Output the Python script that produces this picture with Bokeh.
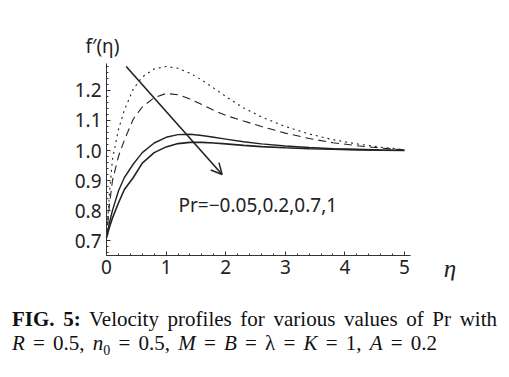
from bokeh.plotting import figure
from bokeh.models import FixedTicker, Label, Arrow, OpenHead, Div, PrintfTickFormatter
from bokeh.layouts import column
from bokeh.embed import file_html
from bokeh.resources import INLINE

# ---- data ----
eta = [0, 0.05, 0.1, 0.2, 0.3, 0.45, 0.6, 0.8, 1.0, 1.2, 1.4, 1.6, 1.8, 2.0,
       2.3, 2.6, 3.0, 3.4, 3.8, 4.2, 4.6, 5.0]
pr_m005 = [0.71, 0.86, 0.97, 1.07, 1.135, 1.205, 1.245, 1.272, 1.28, 1.274, 1.258,
           1.235, 1.208, 1.18, 1.142, 1.112, 1.08, 1.055, 1.036, 1.022, 1.011, 1.003]
pr_02 = [0.71, 0.82, 0.90, 0.98, 1.035, 1.105, 1.145, 1.176, 1.19, 1.186, 1.172,
         1.153, 1.134, 1.117, 1.098, 1.08, 1.058, 1.04, 1.026, 1.016, 1.008, 1.002]
pr_07 = [0.71, 0.76, 0.80, 0.865, 0.91, 0.955, 0.993, 1.025, 1.044, 1.053, 1.054,
         1.05, 1.044, 1.038, 1.029, 1.022, 1.015, 1.01, 1.006, 1.004, 1.002, 1.001]
pr_1 = [0.71, 0.745, 0.775, 0.825, 0.87, 0.91, 0.958, 0.993, 1.012, 1.023, 1.027,
        1.027, 1.025, 1.022, 1.017, 1.013, 1.009, 1.006, 1.004, 1.002, 1.001, 1.0]

x_ticks = [0, 1, 2, 3, 4, 5]
y_ticks = [0.7, 0.8, 0.9, 1.0, 1.1, 1.2]
x_minor = [round(0.2 * i, 2) for i in range(0, 26)]
y_minor = [round(0.66 + 0.02 * i, 2) for i in range(0, 32)]

annot_text = "Pr=\u22120.05,0.2,0.7,1"

FONT = "Noto Sans"
INK = "#222222"

# frame: x px 60..470, y px 20..280 ; eta=0 at px 106, 59.6 px/unit ; 300 px/unit in y
p = figure(width=509, height=320,
           x_range=(-0.772, 6.107), y_range=(0.5667, 1.4333),
           output_backend="svg", toolbar_location=None,
           min_border_left=60, min_border_right=39, min_border_top=20,
           min_border_bottom=40)
p.outline_line_color = None
p.grid.visible = False
p.background_fill_color = "white"
p.border_fill_color = "white"

for ax in (p.xaxis[0], p.yaxis[0]):
    ax.axis_line_color = "#333333"
    ax.axis_line_width = 1
    ax.major_tick_in = 4
    ax.major_tick_out = 0
    ax.minor_tick_in = 2
    ax.minor_tick_out = 0
    ax.major_tick_line_color = "#333333"
    ax.minor_tick_line_color = "#333333"
    ax.major_label_text_font = FONT
    ax.major_label_text_font_size = "19px"
    ax.major_label_text_color = INK

p.xaxis.fixed_location = 0.65
p.yaxis.fixed_location = 0
p.xaxis.bounds = (0, 5.1)
p.yaxis.bounds = (0.65, 1.29)
p.xaxis.ticker = FixedTicker(ticks=x_ticks, minor_ticks=x_minor)
p.yaxis.ticker = FixedTicker(ticks=y_ticks, minor_ticks=y_minor)
p.yaxis.formatter = PrintfTickFormatter(format="%.1f")
p.xaxis.major_label_standoff = 4
p.yaxis.major_label_standoff = 5

p.line(eta, pr_m005, line_color=INK, line_width=1.1, line_dash="2 4")
p.line(eta, pr_02, line_color=INK, line_width=1.1, line_dash="8 5")
p.line(eta, pr_07, line_color=INK, line_width=1.4)
p.line(eta, pr_1, line_color=INK, line_width=1.6)

p.add_layout(Arrow(end=OpenHead(size=11, line_width=1.5, line_color=INK),
                   x_start=0.33, y_start=1.28, x_end=1.94, y_end=0.92,
                   line_width=1.6, line_color=INK))

p.add_layout(Label(x=1.208, y=0.8167, text=annot_text, text_font=FONT,
                   text_font_size="19px", text_color=INK,
                   text_baseline="alphabetic"))
p.add_layout(Label(x=-0.353, y=1.347, text="f\u2032(\u03b7)", text_font=FONT,
                   text_font_size="19px", text_color=INK,
                   text_baseline="alphabetic"))
p.add_layout(Label(x=5.66, y=0.6067, text="\u03b7", text_font="Liberation Serif",
                   text_font_style="italic", text_font_size="25px",
                   text_color=INK, text_baseline="alphabetic"))

caption = Div(width=509, height=87, margin=(-30, 0, 0, 0), text=(
    '<div style="font-family:\'Liberation Serif\',serif;font-size:21px;'
    'color:#111;padding:18px 12px 0 12px;width:509px;box-sizing:border-box;'
    'line-height:23.5px;">'
    '<div style="width:485px;text-align:justify;text-align-last:justify;">'
    '<b>FIG. 5:</b> Velocity profiles for various values of Pr with</div>'
    '<div style="width:425px;text-align:justify;text-align-last:justify;">'
    '<i>R</i> = 0.5, <i>n</i><sub style="font-size:14px;line-height:0;">0</sub> = 0.5, '
    '<i>M</i> = <i>B</i> = \u03bb = <i>K</i> = 1, <i>A</i> = 0.2</div></div>'))

layout = column(p, caption, spacing=0)
open("out.html", "w").write(file_html(layout, INLINE))
